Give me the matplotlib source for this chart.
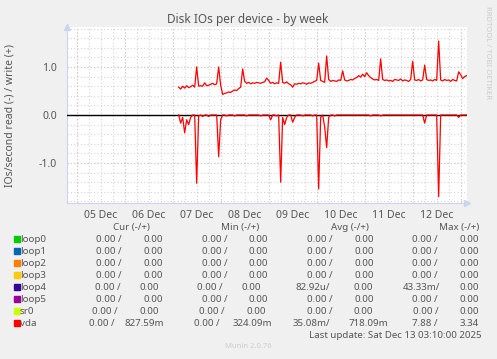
import pandas as pd
import matplotlib
matplotlib.use("Agg")
import matplotlib.pyplot as plt
import matplotlib.dates as mdates

plt.rcParams['font.family'] = ['Noto Sans', 'DejaVu Sans']

# vda IOs/second, hourly samples starting 2025-12-07 03:00
vda_write = [
    0.58, 0.54, 0.60, 0.56, 0.61, 0.57, 0.59, 0.62, 0.58, 1.00,
    0.60, 0.61, 0.60, 0.67, 0.61, 0.62, 0.64, 0.66, 0.63, 0.65,
    1.00, 0.62, 0.43, 0.45, 0.46, 0.48, 0.47, 0.50, 0.52, 0.51,
    0.55, 0.58, 0.96, 0.70, 0.66, 0.68, 0.65, 0.67, 0.66, 0.68,
    0.67, 0.66, 0.68, 0.69, 0.77, 0.72, 0.66, 0.68, 0.65, 0.67,
    0.66, 1.10, 0.68, 0.66, 0.69, 0.65, 0.63, 0.58, 0.65, 0.64,
    0.66, 0.65, 0.67, 0.66, 0.64, 0.67, 0.66, 0.68, 0.70, 0.72,
    1.08, 0.72, 0.70, 0.68, 1.23, 0.74, 0.70, 0.72, 0.71, 0.70,
    0.73, 0.72, 0.92, 0.73, 0.71, 0.72, 0.74, 0.73, 0.76, 0.78,
    0.82, 0.79, 0.85, 0.80, 0.88, 0.82, 0.78, 0.75, 0.73, 0.74,
    0.72, 1.17, 0.74, 0.72, 0.73, 0.71, 0.72, 0.70, 0.74, 0.73,
    0.72, 0.75, 0.71, 0.73, 0.72, 0.70, 0.74, 1.12, 0.73, 0.72,
    0.74, 0.71, 0.73, 1.04, 0.74, 0.72, 0.73, 0.71, 0.74, 0.72,
    1.54, 0.73, 0.71, 0.74, 0.72, 0.73, 0.70, 0.74, 0.72, 0.71,
    0.90, 0.84, 0.76, 0.80, 0.82,
]
vda_read = [
    0.00, 0.17, 0.05, 0.37, 0.10, 0.20, 0.05, 0.00, 0.00, 1.42,
    0.02, 0.00, 0.03, 0.00, 0.00, 0.03, 0.00, 0.00, 0.00, 0.00,
    0.87, 0.10, 0.00, 0.00, 0.02, 0.00, 0.00, 0.00, 0.02, 0.00,
    0.00, 0.00, 0.00, 0.00, 0.02, 0.00, 0.00, 0.00, 0.00, 0.00,
    0.00, 0.02, 0.00, 0.00, 0.00, 0.00, 0.10, 0.00, 0.00, 0.02,
    0.00, 1.40, 0.05, 0.20, 0.05, 0.00, 0.00, 0.15, 0.05, 0.00,
    0.00, 0.00, 0.02, 0.00, 0.00, 0.00, 0.00, 0.02, 0.00, 0.00,
    1.54, 0.05, 0.00, 0.25, 0.68, 0.05, 0.00, 0.00, 0.02, 0.00,
    0.00, 0.00, 0.00, 0.00, 0.00, 0.00, 0.00, 0.00, 0.00, 0.00,
    0.00, 0.00, 0.00, 0.00, 0.00, 0.00, 0.02, 0.00, 0.00, 0.00,
    0.00, 0.02, 0.00, 0.00, 0.00, 0.00, 0.00, 0.00, 0.00, 0.00,
    0.00, 0.00, 0.00, 0.00, 0.00, 0.00, 0.00, 0.00, 0.00, 0.00,
    0.00, 0.00, 0.00, 0.17, 0.00, 0.00, 0.00, 0.00, 0.00, 0.00,
    1.70, 0.00, 0.00, 0.00, 0.00, 0.00, 0.00, 0.00, 0.00, 0.00,
    0.05, 0.00, 0.00, 0.00, 0.00,
]

devices = ['loop0', 'loop1', 'loop2', 'loop3', 'loop4', 'loop5', 'sr0', 'vda']
colors = ['#00CC00', '#0066B3', '#FF8000', '#FFCC00', '#330099', '#990099', '#CCFF00', '#FF0000']
cur = [('0.00 /', '0.00')] * 7 + [('0.00 /', '827.59m')]
mins = [('0.00 /', '0.00')] * 7 + [('0.00 /', '324.09m')]
avgs = [('0.00 /', '0.00')] * 4 + [('82.92u/', '0.00')] + [('0.00 /', '0.00')] * 2 + [('35.08m/', '718.09m')]
maxs = [('0.00 /', '0.00')] * 4 + [('43.33m/', '0.00')] + [('0.00 /', '0.00')] * 2 + [('7.88 /', '3.34')]

t_start = pd.Timestamp('2025-12-04 19:10')
t_end = pd.Timestamp('2025-12-13 03:10')
times = pd.date_range('2025-12-07 03:00', periods=len(vda_write), freq='h')

W, H = 497, 359
fig = plt.figure(figsize=(W / 100, H / 100), dpi=100, facecolor='#F0F0F0')
ax = fig.add_axes([67 / W, (H - 203) / H, 400 / W, 176 / H], facecolor='white')

txt = '#555555'
ax.set_xlim(t_start, t_end)
ax.set_ylim(-1.833, 1.833)

# grid
ax.yaxis.set_major_locator(plt.FixedLocator([-1, 0, 1]))
ax.yaxis.set_major_formatter(plt.FixedFormatter(['-1.0', '0.0', '1.0']))
ax.yaxis.set_minor_locator(plt.MultipleLocator(0.2))
ax.xaxis.set_major_locator(mdates.HourLocator(byhour=12))
ax.xaxis.set_major_formatter(mdates.DateFormatter('%d %b'))
ax.xaxis.set_minor_locator(mdates.HourLocator(byhour=[0, 6, 12, 18]))
ax.xaxis.remove_overlapping_locs = False
ax.yaxis.remove_overlapping_locs = False
ax.grid(which='minor', color='#d4d4d4', linestyle=(0, (1, 2)), linewidth=0.8)
ax.grid(which='major', axis='y', color='#e8a0a0', linestyle=(0, (1, 2)), linewidth=0.8)
for d in pd.date_range('2025-12-05', '2025-12-13', freq='D'):
    ax.axvline(d, color='#e8a0a0', linestyle=(0, (1, 2)), linewidth=0.8, zorder=1)
ax.tick_params(which='both', length=0, colors=txt, labelsize=7.5)
ax.tick_params(axis='y', pad=7)
ax.tick_params(axis='x', pad=5)

for s in ['top', 'right']:
    ax.spines[s].set_visible(False)
for s in ['left', 'bottom']:
    ax.spines[s].set_color('#ccd4ee')
    ax.spines[s].set_linewidth(0.8)
ax.plot([0], [1.0], marker='^', color='#ccd4ee', markersize=4,
        transform=ax.transAxes, clip_on=False)
ax.plot([1.0], [0], marker='>', color='#ccd4ee', markersize=4,
        transform=ax.transAxes, clip_on=False)

ax.axhline(0, color='black', linewidth=1, zorder=3)
ax.plot(times, vda_write, color='#FF0000', linewidth=0.9, zorder=4)
ax.plot(times, [-v for v in vda_read], color='#FF0000', linewidth=0.9, zorder=4)

def px(x, y):
    return x / W, 1 - y / H

fig.text(*px(248, 20), 'Disk IOs per device - by week', ha='center', va='center',
         color=txt, fontsize=8.5)
fig.text(*px(10, 115), 'IOs/second read (-) / write (+)', ha='center', va='center',
         rotation=90, color=txt, fontsize=7.5)
fig.text(*px(488, 52), 'RRDTOOL / TOBI OETIKER', ha='center', va='center',
         rotation=270, color='#cccccc', fontsize=5.5)

# legend table
fs = 7
for x, h in [(131, 'Cur (-/+)'), (240, 'Min (-/+)'), (350, 'Avg (-/+)'), (459, 'Max (-/+)')]:
    fig.text(*px(x, 228), h, ha='center', va='center', color=txt, fontsize=fs)
edges = {
    'default': [122, 163, 228, 268, 333, 374, 438, 479],
    'loop4': [121, 159, 223, 261, 330, 373, 440, 479],
    'sr0': [118, 159, 225, 266, 333, 373, 439, 479],
    'vda': [115, 164, 220, 272, 330, 388, 437, 479],
}
for i, name in enumerate(devices):
    y = 239 + 12 * i
    fig.patches.append(plt.Rectangle(px(14, y + 3), 6 / W, 6 / H, color=colors[i],
                                     transform=fig.transFigure, figure=fig))
    fig.text(*px(20, y), name, ha='left', va='center', color=txt, fontsize=fs)
    cells = [*cur[i], *mins[i], *avgs[i], *maxs[i]]
    for xr, c in zip(edges.get(name, edges['default']), cells):
        fig.text(*px(xr, y), c, ha='right', va='center', color=txt, fontsize=fs)
fig.text(*px(482, 335), 'Last update: Sat Dec 13 03:10:00 2025', ha='right', va='center',
         color=txt, fontsize=fs)
fig.text(*px(248, 347), 'Munin 2.0.76', ha='center', va='center', color='#cccccc', fontsize=5.5)

fig.savefig('out.png', dpi=100, facecolor=fig.get_facecolor())
